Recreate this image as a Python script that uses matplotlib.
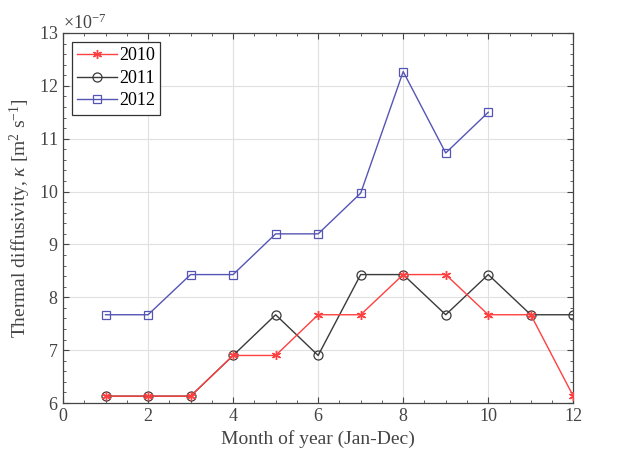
import numpy as np
import matplotlib.pyplot as plt
from matplotlib.ticker import MultipleLocator, ScalarFormatter

# Data (thermal diffusivity, in units of 1e-7 m^2/s)
months_full = [1, 2, 3, 4, 5, 6, 7, 8, 9, 10, 11, 12]
months_2012 = [1, 2, 3, 4, 5, 6, 7, 8, 9, 10]
k2010 = [6.13, 6.13, 6.13, 6.90, 6.90, 7.67, 7.67, 8.43, 8.43, 7.67, 7.67, 6.13]
k2011 = [6.13, 6.13, 6.13, 6.90, 7.67, 6.90, 8.43, 8.43, 7.67, 8.43, 7.67, 7.67]
k2012 = [7.67, 7.67, 8.43, 8.43, 9.20, 9.20, 9.97, 12.27, 10.73, 11.50]
scale = 1e-7

plt.rcParams['font.family'] = ['Liberation Serif', 'DejaVu Serif']
plt.rcParams['mathtext.fontset'] = 'custom'
plt.rcParams['mathtext.rm'] = 'Liberation Serif'
plt.rcParams['mathtext.it'] = 'Liberation Serif:italic'

fig = plt.figure(figsize=(6.3, 4.58), dpi=100)
ax = fig.add_axes([0.1, 0.12, 0.81, 0.808])

ax.plot(months_full, np.array(k2010) * scale, color='#ff4040', lw=1.0,
        marker=(6, 2, 0), ms=6.5, mew=1.0, label='2010', zorder=3)
ax.plot(months_full, np.array(k2011) * scale, color='#3a3a3a', lw=1.0,
        marker='o', ms=6.5, mfc='none', mew=0.9, label='2011', zorder=2)
ax.plot(months_2012, np.array(k2012) * scale, color='#5555b5', lw=1.0,
        marker='s', ms=5.5, mfc='none', mew=0.9, label='2012', zorder=2)

ax.set_xlim(0, 12)
ax.set_ylim(6e-7, 13e-7)
ax.xaxis.set_major_locator(MultipleLocator(2))
ax.xaxis.set_minor_locator(MultipleLocator(0.5))
ax.yaxis.set_major_locator(MultipleLocator(1e-7))
ax.yaxis.set_minor_locator(MultipleLocator(0.2e-7))
fmt = ScalarFormatter(useMathText=True)
fmt.set_powerlimits((-7, -7))
ax.yaxis.set_major_formatter(fmt)
ax.yaxis.get_offset_text().set_fontsize(13)
ax.yaxis.get_offset_text().set_color('#444444')

ax.grid(True, which='major', color='#e0e0e0', lw=0.8)
ax.set_axisbelow(True)
ax.tick_params(which='both', direction='in', top=True, right=True,
               labelsize=13, labelcolor='#444444', color='#444444')
ax.tick_params(which='major', length=4)
ax.tick_params(which='minor', length=2)
for s in ax.spines.values():
    s.set_color('#444444')
    s.set_linewidth(0.9)

ax.set_xlabel('Month of year (Jan-Dec)', fontsize=14, color='#444444')
ax.set_ylabel(r'Thermal diffusivity, $\mathit{\kappa}$ [m$^2$ s$^{-1}$]',
              fontsize=14, color='#444444')

leg = ax.legend(loc='upper left', fontsize=13, fancybox=False, framealpha=1,
                edgecolor='#333333', handlelength=2.2, borderpad=0.3,
                labelspacing=0.3, handletextpad=0.1)
leg.get_frame().set_linewidth(0.9)

fig.savefig('out.png', dpi=100)
